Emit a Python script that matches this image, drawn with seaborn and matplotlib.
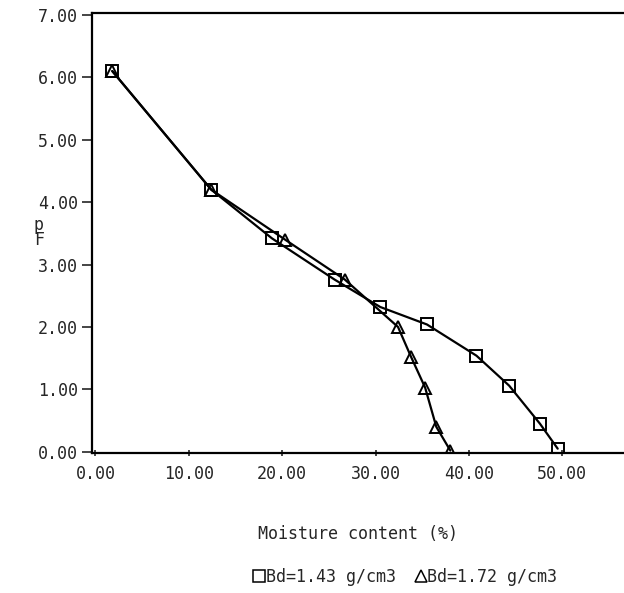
import pandas as pd
import matplotlib
matplotlib.use("Agg")
import matplotlib.pyplot as plt
import seaborn as sns
from matplotlib.lines import Line2D
from matplotlib.ticker import FormatStrFormatter

# Bd = 1.43 g/cm3 (squares)
moist_143 = [1.8, 12.4, 18.9, 25.6, 30.5, 35.5, 40.8, 44.3, 47.6, 49.5]
pf_143 = [6.1, 4.2, 3.42, 2.76, 2.32, 2.04, 1.54, 1.06, 0.45, 0.05]

# Bd = 1.72 g/cm3 (triangles)
moist_172 = [1.8, 12.4, 20.3, 26.7, 32.4, 33.8, 35.3, 36.5, 38.0]
pf_172 = [6.1, 4.2, 3.4, 2.76, 2.0, 1.52, 1.03, 0.4, 0.02]

series_names = ["Bd=1.43 g/cm3", "Bd=1.72 g/cm3"]
x_ticks = [0, 10, 20, 30, 40, 50]
y_ticks = [0, 1, 2, 3, 4, 5, 6, 7]

df = pd.concat([
    pd.DataFrame({"moisture": moist_143, "pF": pf_143, "series": series_names[0]}),
    pd.DataFrame({"moisture": moist_172, "pF": pf_172, "series": series_names[1]}),
])

sns.set_style("ticks")
plt.rcParams["font.family"] = ["DejaVu Sans Mono"]

fig = plt.figure(figsize=(6.24, 5.93), dpi=100)
ax = fig.add_axes([0.147, 0.236, 0.853, 0.742])

markers = {series_names[0]: "s", series_names[1]: "^"}
sns.lineplot(data=df, x="moisture", y="pF", hue="series", style="series",
             markers=markers, dashes=False, sort=False, estimator=None,
             palette=["black", "black"], markersize=9, markerfacecolor="none",
             markeredgecolor="black", markeredgewidth=1.4, linewidth=1.6,
             legend=False, ax=ax)

ax.set_xlim(-0.4, 56.6)
ax.set_ylim(-0.02, 7.03)
ax.set_xticks(x_ticks)
ax.set_yticks(y_ticks)
ax.xaxis.set_major_formatter(FormatStrFormatter("%.2f"))
ax.yaxis.set_major_formatter(FormatStrFormatter("%.2f"))
ax.tick_params(axis="y", direction="out", length=7, width=1.2, labelsize=12, pad=3)
ax.tick_params(axis="x", direction="inout", length=5, width=1.2, labelsize=12, pad=6)

for side in ["left", "bottom", "top"]:
    ax.spines[side].set_linewidth(1.6)
    ax.spines[side].set_color("black")
ax.spines["right"].set_visible(False)

ax.set_xlabel("Moisture content (%)", fontsize=12, labelpad=30)
ax.set_ylabel("")
fig.text(0.062, 0.608, "p\nF", fontsize=12, ha="center", va="center", linespacing=0.75)

handles = [
    Line2D([], [], linestyle="none", marker="s", markersize=8, markerfacecolor="none",
           markeredgecolor="black", markeredgewidth=1.1),
    Line2D([], [], linestyle="none", marker="^", markersize=8, markerfacecolor="none",
           markeredgecolor="black", markeredgewidth=1.1),
]
fig.legend(handles, series_names, loc="center", bbox_to_anchor=(0.65, 0.027), ncol=2,
           frameon=False, fontsize=12, handlelength=0.6, handletextpad=0.1,
           columnspacing=1.2)

fig.savefig("out.png", dpi=100)
